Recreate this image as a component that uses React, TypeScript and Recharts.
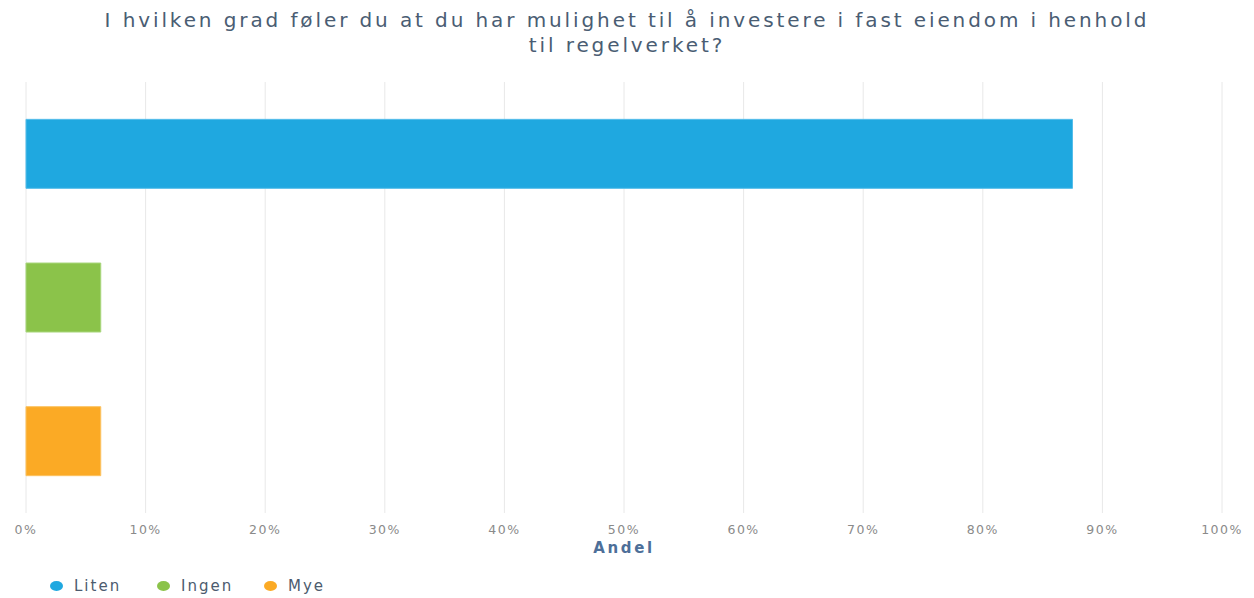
import React from 'react';
import { BarChart, Bar, XAxis, YAxis, CartesianGrid, Legend } from 'recharts';

const categories = ['Liten', 'Ingen', 'Mye'];
const shares = [87.5, 6.25, 6.25];
const fills = ['#1fa8e0', '#8bc34a', '#fbaa25'];
const strokes = ['#55bdea', '#a8d67c', '#fcc260'];
const percentTicks = [0, 10, 20, 30, 40, 50, 60, 70, 80, 90, 100];

const data = categories.map((c, i) => ({ name: c, [c]: shares[i] }));

const FONT = '"DejaVu Sans", Verdana, sans-serif';

const PercentTick = (props: any) => {
    const { x, y, payload } = props;
    return (
        <text x={x} y={y + 21} textAnchor="middle" fill="#8a8a8a" fontSize={12.5} letterSpacing={1.5} fontFamily={FONT}>
            {`${payload.value}%`}
        </text>
    );
};

const AxisTitle = (props: any) => {
    const { viewBox } = props;
    return (
        <text
            x={viewBox.x + viewBox.width / 2}
            y={viewBox.y + 40}
            textAnchor="middle"
            fill="#4d6f99"
            fontSize={15}
            fontWeight="bold"
            letterSpacing={2.6}
            fontFamily={FONT}
        >
            Andel
        </text>
    );
};

const LegendContent = () => (
    <div style={{ height: 24, display: 'flex', alignItems: 'center', paddingLeft: 50, fontFamily: FONT }}>
        {categories.map((c, i) => (
            <div key={c} style={{ width: 107, display: 'flex', alignItems: 'center' }}>
                <span style={{ width: 13, height: 10, borderRadius: '50%', background: fills[i], display: 'inline-block', marginRight: 11 }} />
                <span style={{ fontSize: 15, letterSpacing: 2, color: '#4c5b6e' }}>{c}</span>
            </div>
        ))}
    </div>
);

export default function App() {
    return (
        <div style={{ position: 'absolute', left: 0, top: 0, width: 1254, height: 598, background: '#fff' }}>
            <div
                style={{
                    position: 'absolute',
                    top: 8,
                    left: 0,
                    width: 1254,
                    textAlign: 'center',
                    fontFamily: FONT,
                    fontSize: 20,
                    lineHeight: '25px',
                    letterSpacing: 2.9,
                    color: '#4a5d73',
                }}
            >
                I hvilken grad føler du at du har mulighet til å investere i fast eiendom i henhold
                <br />
                til regelverket?
            </div>
            <BarChart
                width={1254}
                height={598}
                layout="vertical"
                data={data}
                margin={{ top: 82, right: 32, left: 26, bottom: 0 }}
                barCategoryGap="26%"
            >
                <CartesianGrid horizontal={false} stroke="#e8e8e8" />
                <XAxis
                    type="number"
                    domain={[0, 100]}
                    ticks={percentTicks}
                    interval={0}
                    height={61}
                    axisLine={false}
                    tickLine={false}
                    tickSize={0}
                    tickMargin={0}
                    tick={<PercentTick />}
                    label={<AxisTitle />}
                />
                <YAxis
                    type="category"
                    dataKey="name"
                    width={0}
                    axisLine={false}
                    tickSize={7}
                    tickLine={{ stroke: '#d3e3f0' }}
                    tick={() => <g />}
                />
                <Legend verticalAlign="bottom" align="left" content={<LegendContent />} wrapperStyle={{ left: 0, bottom: 0, width: 1254 }} />
                {categories.map((c, i) => (
                    <Bar
                        key={c}
                        dataKey={c}
                        stackId="a"
                        fill={fills[i]}
                        stroke={strokes[i]}
                        strokeWidth={1}
                        isAnimationActive={false}
                    />
                ))}
            </BarChart>
        </div>
    );
}
